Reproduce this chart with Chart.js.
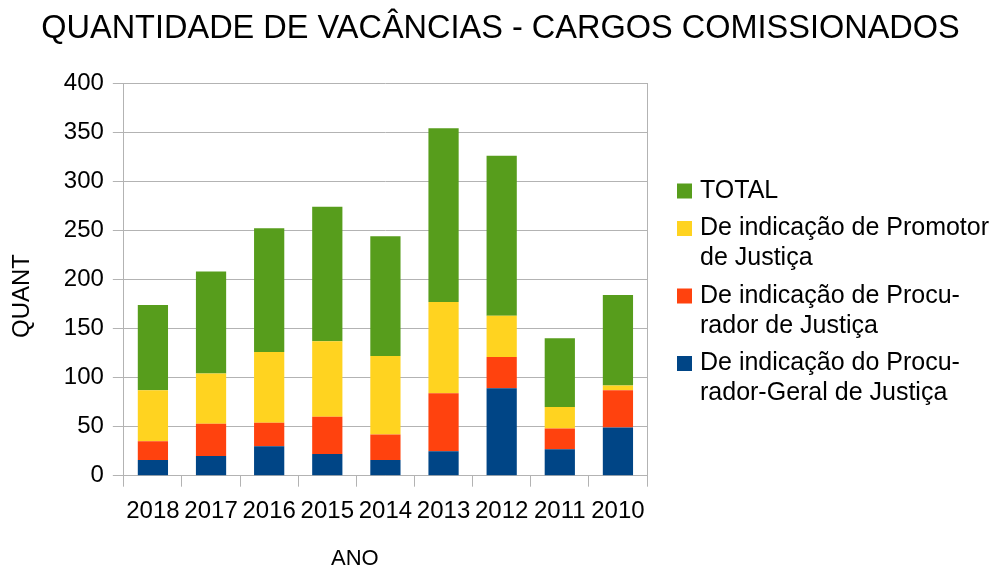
<!DOCTYPE html>
<html>
<head>
<meta charset="utf-8">
<script src="https://cdn.jsdelivr.net/npm/chart.js@4.4.0/dist/chart.umd.min.js"></script>
<style>
  html, body { margin: 0; padding: 0; background: #fff; }
  #wrap { width: 1001px; height: 567px; }
</style>
</head>
<body>
<div id="wrap"><canvas id="grafico" width="1001" height="567"></canvas></div>
<script>
// dados
const anos = ['2018', '2017', '2016', '2015', '2014', '2013', '2012', '2011', '2010'];
const procGeral = [16, 20, 30, 22, 16, 25, 89, 27, 49];
const procurador = [19, 33, 24, 38, 26, 59, 32, 21, 38];
const promotor = [52, 51, 72, 77, 80, 93, 42, 22, 5];
const total = [87, 104, 126, 137, 122, 177, 163, 70, 92];
const yTicks = [0, 50, 100, 150, 200, 250, 300, 350, 400];

const series = [
    { label: 'De indicação do Procurador-Geral de Justiça', lines: ['De indicação do Procu-', 'rador-Geral de Justiça'], data: procGeral, color: '#004586' },
    { label: 'De indicação de Procurador de Justiça', lines: ['De indicação de Procu-', 'rador de Justiça'], data: procurador, color: '#ff420e' },
    { label: 'De indicação de Promotor de Justiça', lines: ['De indicação de Promotor', 'de Justiça'], data: promotor, color: '#ffd320' },
    { label: 'TOTAL', lines: ['TOTAL'], data: total, color: '#579d1c' }
];

const grid = '#b3b3b3';
const fonte = 'Liberation Sans';

// legenda desenhada à mão (textos em várias linhas)
const legenda = {
    id: 'legenda',
    afterDraw(chart) {
        const c = chart.ctx;
        const boxX = chart.chartArea.right + 30;
        const textX = boxX + 23;
        const lineH = 30;
        let y = 191;
        c.save();
        c.font = '25px "' + fonte + '"';
        c.textBaseline = 'middle';
        c.textAlign = 'left';
        series.slice().reverse().forEach(function (s) {
            c.fillStyle = s.color;
            c.fillRect(boxX, y - 7.5, 15, 15);
            c.fillStyle = '#000';
            s.lines.forEach(function (t, i) {
                c.fillText(t, textX, y + i * lineH);
            });
            y += s.lines.length * lineH + 7.5;
        });
        c.restore();
    }
};

const ctx = document.getElementById('grafico').getContext('2d');
const chart = new Chart(ctx, {
    type: 'bar',
    data: {
        labels: anos,
        datasets: series.map(function (s) {
            return {
                label: s.label,
                data: s.data,
                backgroundColor: s.color,
                borderWidth: 0,
                categoryPercentage: 1,
                barPercentage: 0.52
            };
        })
    },
    options: {
        responsive: false,
        animation: false,
        maintainAspectRatio: false,
        layout: { padding: { left: 0, right: 0, top: 0, bottom: -3 } },
        plugins: {
            title: {
                display: true,
                text: 'QUANTIDADE DE VACÂNCIAS - CARGOS COMISSIONADOS',
                color: '#000',
                font: { family: fonte, size: 32.5, weight: 'normal' },
                padding: { top: 10, bottom: 34 }
            },
            legend: { display: false },
            tooltip: { enabled: false }
        },
        scales: {
            x: {
                stacked: true,
                grid: { drawOnChartArea: false, drawTicks: true, tickLength: 11, color: grid, offset: true },
                border: { color: grid },
                ticks: { color: '#000', font: { family: fonte, size: 24 }, padding: 10, maxRotation: 0, autoSkip: false },
                title: {
                    display: true,
                    text: 'ANO          ',
                    color: '#000',
                    font: { family: fonte, size: 22, lineHeight: 1 },
                    padding: { top: 12.5, bottom: 0 }
                }
            },
            y: {
                stacked: true,
                min: 0,
                max: 400,
                afterBuildTicks: function (scale) {
                    scale.ticks = yTicks.map(function (v) { return { value: v }; });
                },
                grid: { color: grid, tickLength: 11 },
                border: { color: grid },
                ticks: { color: '#000', font: { family: fonte, size: 24 }, padding: 9 },
                title: {
                    display: true,
                    text: 'QUANT     ',
                    color: '#000',
                    font: { family: fonte, size: 24 },
                    padding: { top: 8, bottom: 18 }
                }
            },
            // borda direita + espaço da legenda
            y2: {
                position: 'right',
                min: 0,
                max: 400,
                grid: { drawOnChartArea: false, drawTicks: false },
                border: { color: grid },
                ticks: { display: false },
                afterFit: function (scale) { scale.width = 354; }
            }
        }
    },
    plugins: [legenda]
});
</script>
</body>
</html>
